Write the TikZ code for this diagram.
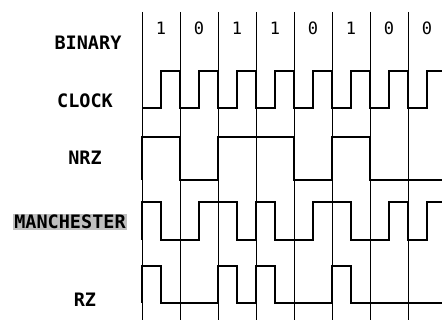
\documentclass[tikz,border=0pt]{standalone}
\usepackage{fontspec}
\setmonofont{DejaVu Sans Mono}
\usetikzlibrary{positioning}

\begin{document}
\begin{tikzpicture}[x=1pt,y=-1pt,line join=miter]
\tikzstyle{grid} = [line width=0.9pt,black]
\tikzstyle{sig} = [line width=1.9pt,black]
\tikzstyle{lbl} = [font=\ttfamily\bfseries\fontsize{18.5}{18.5}\selectfont,inner sep=1pt]
\tikzstyle{bit} = [font=\ttfamily\fontsize{17}{17}\selectfont,inner sep=0pt]
    \useasboundingbox (0,0) rectangle (442,320);

    % row labels
    \node[lbl] (binary) at (88,43) {BINARY};
    \node[lbl] (clock) at (85,101) {CLOCK};
    \node[lbl] (nrz) at (85,158) {NRZ};
    \node[lbl,fill=black!25] (manch) at (70,222) {MANCHESTER};
    \node[lbl] (rz) at (85,300) {RZ};

    % bit cells
    \foreach \i in {0,...,7}
        \draw[grid] ({142+38*\i},12) -- ({142+38*\i},320);
    \foreach \i/\b in {1/1,2/0,3/1,4/1,5/0,6/1,7/0,8/0}
        \node[bit] (b\i) at ({123+38*\i},28) {\b};

    % clock
    \draw[sig] (142,108) foreach \i in {1,...,7} { -- ++(19,0) -- ++(0,-37) -- ++(19,0) -- ++(0,37) }
        -- ++(19,0) -- ++(0,-37) -- (442,71);

    % nrz
    \draw[sig] (142,180) -- (142,137) -- (180,137) -- (180,180) -- (218,180) -- (218,137)
        -- (294,137) -- (294,180) -- (332,180) -- (332,137) -- (370,137) -- (370,180) -- (442,180);

    % manchester
    \draw[sig] (142,240) -- (142,202) -- (161,202) -- (161,240) -- (199,240) -- (199,202)
        -- (237,202) -- (237,240) -- (256,240) -- (256,202) -- (275,202) -- (275,240)
        -- (313,240) -- (313,202) -- (351,202) -- (351,240) -- (389,240) -- (389,202)
        -- (408,202) -- (408,240) -- (427,240) -- (427,202) -- (442,202);

    % rz
    \draw[sig] (142,303) -- (142,266) -- (161,266) -- (161,303) -- (218,303) -- (218,266)
        -- (237,266) -- (237,303) -- (256,303) -- (256,266) -- (275,266) -- (275,303)
        -- (332,303) -- (332,266) -- (351,266) -- (351,303) -- (442,303);
\end{tikzpicture}
\end{document}
